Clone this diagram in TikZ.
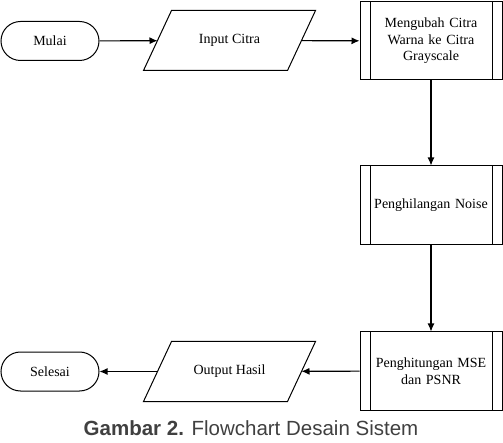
\documentclass[tikz,border=0pt]{standalone}
\usepackage{fontspec}
\setmainfont{Liberation Serif}
\newfontfamily\capfont{Liberation Sans}
\usetikzlibrary{arrows.meta}
\definecolor{capgray}{HTML}{404040}
\tikzset{
  base/.style={draw=black, line width=1pt, align=center, inner sep=0pt,
    font=\fontsize{14}{16.5}\selectfont},
  term/.style={base, rectangle, rounded corners=19.5pt, minimum width=98pt, minimum height=39pt},
  io/.style={base, draw=none, rectangle, minimum width=143pt, minimum height=59pt},
  para/.style={line width=1pt},
  proc/.style={base, rectangle, minimum width=142pt, minimum height=78pt, text width=120pt,
    path picture={
      \draw[line width=1pt] ([xshift=10pt]path picture bounding box.north west) -- ([xshift=10pt]path picture bounding box.south west);
      \draw[line width=1pt] ([xshift=-10pt]path picture bounding box.north east) -- ([xshift=-10pt]path picture bounding box.south east);
    }},
  flow/.style={line width=1.1pt, -{Latex[length=8pt,width=7pt]}}
}
\begin{document}
\begin{tikzpicture}[x=1pt,y=-1pt]
\useasboundingbox (0,0) rectangle (503,443);
\node[term] (mulai) at (50,41) {Mulai};
\node[io] (input) at (229.5,40.5) {Input Citra};
\draw[para] ([xshift=14pt]input.north west) -- ([xshift=14pt]input.north east) -- ([xshift=-14pt]input.south east) -- ([xshift=-14pt]input.south west) -- cycle;
\node[proc] (gray) at (431,41) {Mengubah Citra\\Warna ke Citra\\Grayscale};
\node[proc, minimum height=79pt] (noise) at (431,205.5) {Penghilangan Noise};
\node[proc] (mse) at (431,371) {Penghitungan MSE\\dan PSNR};
\node[io] (output) at (229.5,371.5) {Output Hasil};
\draw[para] ([xshift=14pt]output.north west) -- ([xshift=14pt]output.north east) -- ([xshift=-14pt]output.south east) -- ([xshift=-14pt]output.south west) -- cycle;
\node[term] (selesai) at (50,371.5) {Selesai};
\node[font=\capfont\fontsize{20.5}{24}\selectfont, text=capgray, inner sep=0pt] (cap) at (251,428)
  {\textbf{Gambar 2.} Flowchart Desain Sistem};
\draw[flow] (mulai) -- (input);
\draw[flow] (input) -- (gray);
\draw[flow] (gray) -- (noise);
\draw[flow] (noise) -- (mse);
\draw[flow] (mse) -- (output);
\draw[flow] (output) -- (selesai);
\end{tikzpicture}
\end{document}
